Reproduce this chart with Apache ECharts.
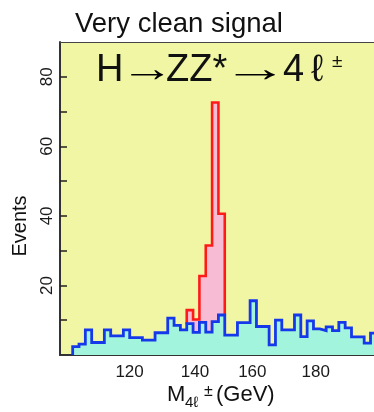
<!DOCTYPE html>
<html><head><meta charset="utf-8">
<script src="https://cdn.jsdelivr.net/npm/echarts@6/dist/echarts.min.js"></script>
<style>html,body{margin:0;padding:0;background:#fff}#c{width:374px;height:412px}</style>
</head><body><div id="c"></div>
<script>
// ---- data ----
const binLow = [103.3,105.3,107.3,109.3,111.3,113.3,115.3,117.3,119.3,121.3,123.3,125.3,
  127.3,129.3,131.3,133.3,135.3,137.3,139.3,141.3,143.3,145.3,147.3,149.3,
  151.3,153.3,155.3,157.3,159.3,161.3,163.3,165.3,167.3,169.3,171.3,173.3,
  175.3,177.3,179.3,181.3,183.3,185.3,187.3,189.3,191.3,193.3,195.3,197.3];
const binWidth = 2;
const background = [2.4,3.1,7.2,3.6,3.6,7.2,5.5,5.5,7.2,5.0,5.0,4.3,
  4.3,6.4,6.4,10.6,8.5,7.2,9.0,6.5,9.4,6.6,9.6,11.5,
  5.7,5.7,9.3,9.3,15.6,8.2,8.2,2.9,10.0,7.2,7.2,11.5,
  5.3,9.8,7.5,7.0,8.1,7.0,9.4,7.8,5.2,5.2,3.4,6.3];
const signalLow = [139.3,141.3,143.3,145.3,147.3,149.3];
const signalTotal = [12.9,10.2,22.7,31.5,72.6,40.6];
const xTickValues = [110,120,130,140,150,160,170,180,190];
const xLabelValues = [120,140,160,180];
const yTickValues = [10,20,30,40,50,60,70,80];
const yLabelValues = [20,40,60,80];
const titleText = 'Very clean signal';
const yName = 'Events';

// ---- build step outlines ----
const bluePts = [[binLow[0], 0]];
background.forEach((v, i) => bluePts.push([binLow[i], v]));
bluePts.push([binLow[binLow.length - 1] + binWidth, background[background.length - 1]]);
bluePts.push([binLow[binLow.length - 1] + binWidth, 0]);

const first = binLow.indexOf(signalLow[0]);
const lastI = signalLow.length - 1;
const redPts = [[signalLow[0], background[first]]];
signalTotal.forEach((v, i) => redPts.push([signalLow[i], v]));
redPts.push([signalLow[lastI] + binWidth, signalTotal[lastI]]);
redPts.push([signalLow[lastI] + binWidth, background[first + lastI]]);

const FONT = "'Liberation Sans', Arial, Helvetica, sans-serif";
const INK = '#111';
function txt(x, y, text, fs, extra) {
  return Object.assign({type: 'text', x: x, y: y, z: 10,
    style: {text: text, fontSize: fs, fontFamily: FONT, fill: INK, align: 'left', verticalAlign: 'middle'}}, extra || {});
}

const chart = echarts.init(document.getElementById('c'), null, {renderer: 'canvas', width: 374, height: 412});
chart.setOption({
  animation: false,
  backgroundColor: '#ffffff',
  textStyle: {fontFamily: FONT},
  grid: {left: 60, right: 0, top: 42, bottom: 57, show: true,
    backgroundColor: '#f0f6a4', borderWidth: 0},
  xAxis: [{
    type: 'value', min: 99.3, max: 198.4,
    axisLine: {show: true, lineStyle: {color: '#333', width: 2}},
    axisTick: {show: true, inside: true, length: 5, customValues: xTickValues,
      lineStyle: {color: '#222', width: 1.5}},
    axisLabel: {customValues: xLabelValues, fontSize: 17, color: '#1a1a1a', margin: 9, fontFamily: FONT,
      formatter: v => v === 120 ? '{a|120}' : v === 140 ? '{b|140}' : String(v),
      rich: {
        a: {fontSize: 17, fontFamily: FONT, color: '#1a1a1a', padding: [0, 0, 0, 8]},
        b: {fontSize: 17, fontFamily: FONT, color: '#1a1a1a', padding: [0, 0, 0, 12]}
      }},
    splitLine: {show: false}
  }, {
    type: 'value', min: 99.3, max: 198.4, position: 'top',
    axisLine: {show: true, lineStyle: {color: '#444', width: 1}},
    axisTick: {show: false}, axisLabel: {show: false}, splitLine: {show: false}
  }],
  yAxis: {
    type: 'value', min: 0, max: 90,
    axisLine: {show: true, lineStyle: {color: '#333', width: 2}},
    axisTick: {show: true, inside: true, length: 7, customValues: yTickValues,
      lineStyle: {color: '#222', width: 1.5}},
    axisLabel: {customValues: yLabelValues, rotate: 90, fontSize: 17, color: '#1a1a1a', margin: 4, fontFamily: FONT},
    splitLine: {show: false}
  },
  series: [
    {type: 'line', step: 'end', data: redPts, symbol: 'none', z: 2,
      lineStyle: {color: '#ff1a1a', width: 2.6, join: 'miter'},
      areaStyle: {color: '#f7bcd4', opacity: 1}},
    {type: 'line', step: 'end', data: bluePts, symbol: 'none', z: 3,
      lineStyle: {color: '#1538ea', width: 2.8, join: 'miter'},
      areaStyle: {color: '#a2f5dc', opacity: 1}}
  ],
  graphic: [
    txt(75, 24, titleText, 27.5),
    // H -> ZZ* -> 4 l (+/-)
    txt(96, 70.5, 'H', 38),
    txt(147, 70.5, '→', 38, {scaleX: 1.42, style: {text: '→', fontSize: 38, fontFamily: FONT, fill: '#000', align: 'center', verticalAlign: 'middle'}}),
    txt(166, 70.5, 'ZZ*', 38),
    txt(255, 70.5, '→', 38, {scaleX: 1.75, style: {text: '→', fontSize: 38, fontFamily: FONT, fill: '#000', align: 'center', verticalAlign: 'middle'}}),
    txt(283, 70.5, '4', 38),
    txt(311, 70.5, 'ℓ', 38),
    txt(332, 62, '±', 19),
    // y axis name
    {type: 'text', x: 20, y: 226, rotation: Math.PI / 2, z: 10,
      style: {text: yName, fontSize: 20, fontFamily: FONT, fill: INK, align: 'center', verticalAlign: 'middle'}},
    // x axis name: M_{4l}^{+-} (GeV)
    txt(167, 395, 'M', 22),
    txt(185, 403, '4ℓ', 15),
    txt(204, 392, '±', 16),
    txt(216, 395, '(GeV)', 22)
  ]
});
</script>
</body></html>
